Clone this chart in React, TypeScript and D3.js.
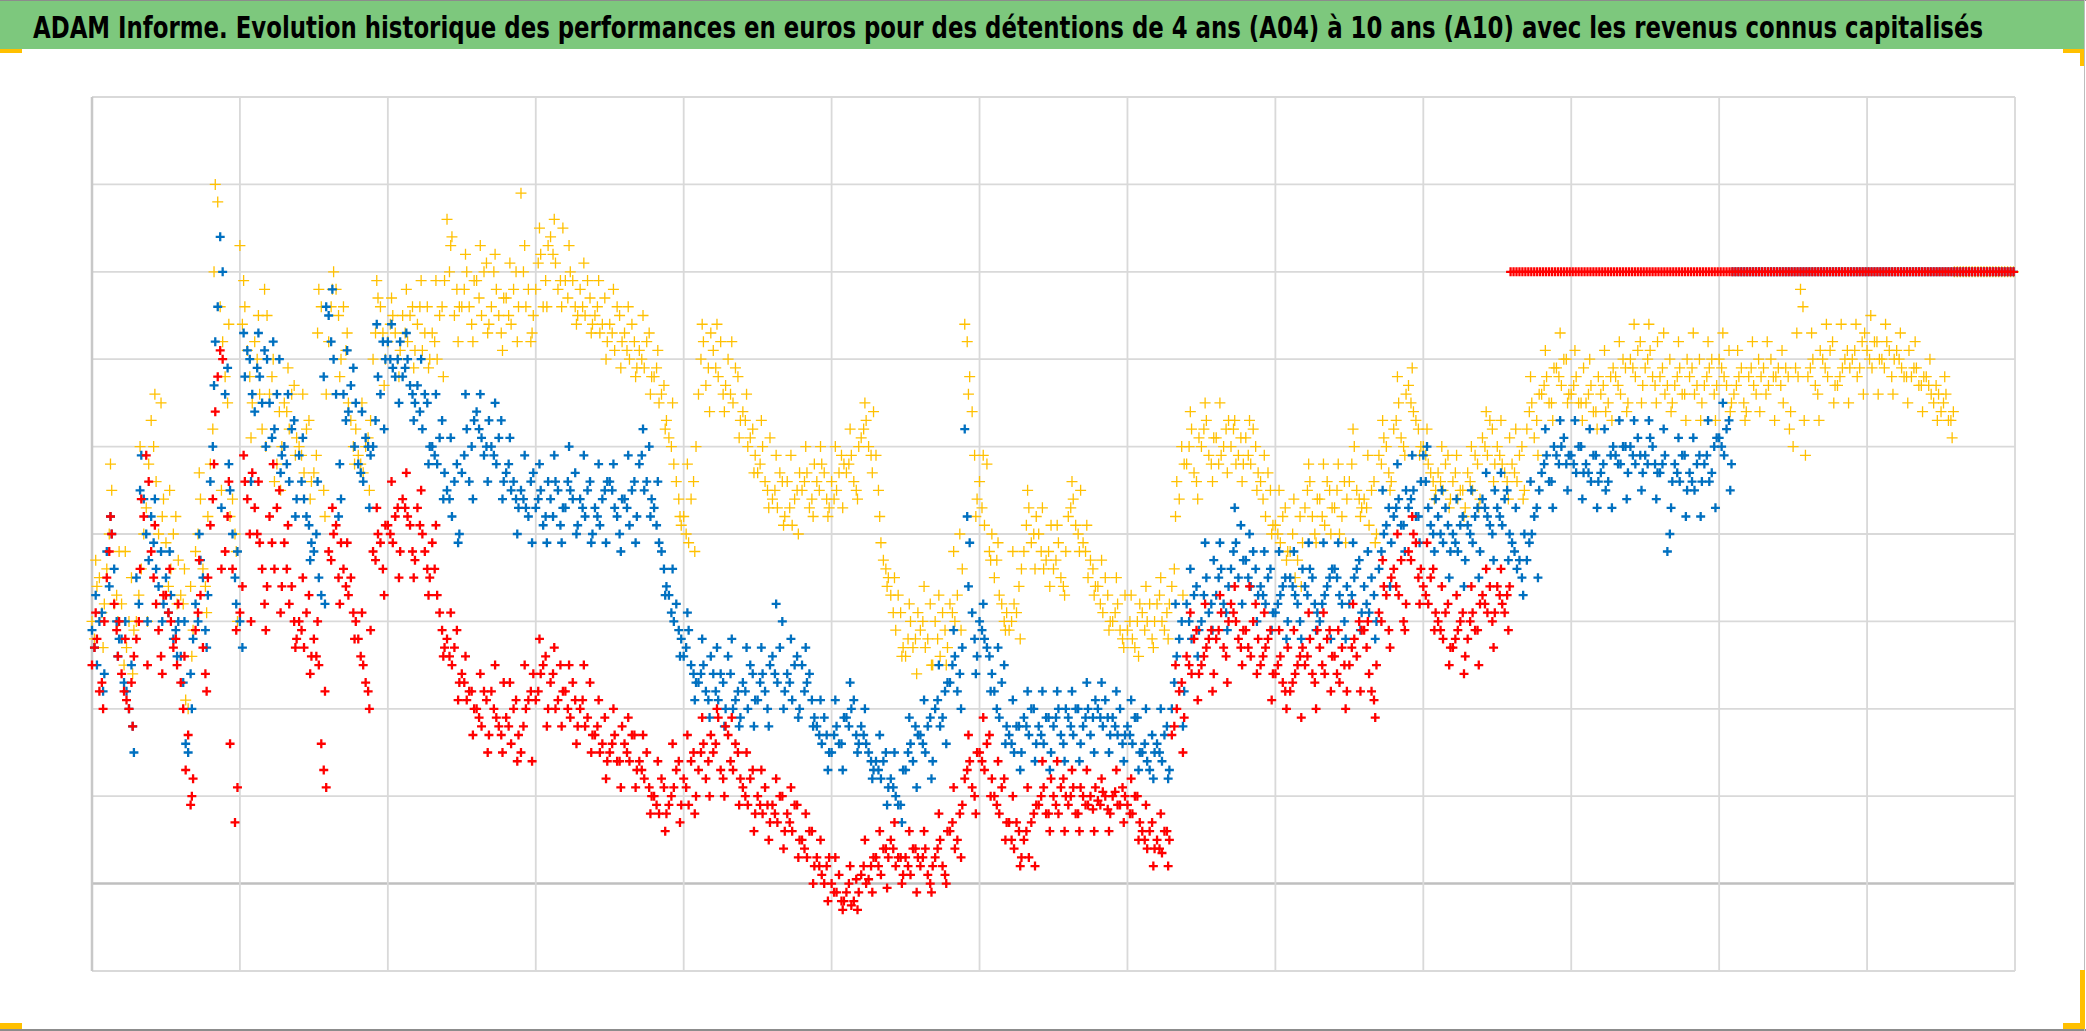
import React, { useEffect, useRef } from "react";
import * as d3 from "d3";

const title =
  "ADAM Informe. Evolution historique des performances en euros pour des détentions de 4 ans (A04) à 10 ans (A10) avec les revenus connus capitalisés";

// x is measured in grid columns (13 columns), y in grid rows (zero line at 0)
const xTicks = d3.range(0, 14);
const yTicks = d3.range(-1, 10);
const step = 0.1;

// readings per step of 0.1 column: a first pass, a second pass between them,
// and a third pass for the upper and lower edges of each cloud
const yellow: number[][] = [
  [3.0, 3.4, 3.1], [3.6, 4.5, 3.3], [3.2, 2.7, 3.5], [3.0, 3.6, 4.3], [5.3, 4.6, 5.5],
  [3.9, 3.6, 4.2], [3.3, 2.1, 3.4], [3.8, 4.4, 3.4], [4.8, 8.0, 6.6], [5.8, 4.2, 4.0],
  [7.3, 6.6, 5.8], [6.2, 5.6, 6.8], [5.6, 4.6, 5.4], [5.5, 5.2, 5.7], [5.0, 4.7, 5.3],
  [4.7, 6.8, 4.5], [6.2, 7.0, 6.5], [6.6, 5.5, 5.0], [4.9, 4.7, 5.1], [6.0, 6.7, 6.3],
  [6.2, 6.5, 6.0], [6.5, 6.2, 6.6], [6.4, 6.1, 6.6], [6.3, 6.0, 6.6], [7.6, 7.4, 6.8],
  [6.6, 7.0, 6.4], [6.9, 6.5, 7.1], [6.6, 6.8, 6.3], [6.7, 6.4, 7.0], [7.9, 6.6, 6.2],
  [6.8, 7.2, 6.9], [7.4, 7.1, 6.9], [6.9, 7.0, 6.6], [6.8, 6.5, 6.7], [6.5, 6.3, 6.7],
  [6.4, 6.1, 6.5], [6.3, 6.0, 6.2], [6.1, 5.9, 6.3], [5.8, 5.5, 5.7], [5.1, 4.8, 4.4],
  [4.2, 3.9, 4.6], [5.6, 6.2, 5.9], [6.1, 5.8, 5.6], [6.0, 5.5, 5.8], [5.4, 5.0, 5.2],
  [4.7, 5.0, 4.5], [4.4, 4.3, 4.6], [4.6, 4.1, 4.5], [4.5, 4.7, 4.4], [4.6, 4.8, 4.4],
  [4.6, 4.5, 4.9], [4.7, 4.9, 4.5], [5.1, 5.3, 4.9], [4.9, 3.9, 3.6], [3.3, 2.9, 3.1],
  [2.6, 3.0, 2.8], [2.9, 2.7, 3.2], [3.0, 2.6, 2.9], [3.2, 3.0, 4.0], [6.4, 5.8, 4.9],
  [4.6, 4.1, 3.8], [3.5, 3.3, 3.0], [2.9, 3.2, 3.4], [3.8, 4.3, 4.0], [4.0, 3.6, 3.8],
  [3.6, 3.9, 3.4], [4.2, 4.4, 4.0], [3.9, 3.5, 3.6], [3.4, 3.1, 3.3], [3.0, 3.2, 2.8],
  [2.9, 2.8, 3.0], [3.1, 3.0, 2.8], [3.2, 3.0, 3.1], [3.4, 4.6, 5.0], [4.8, 5.2, 4.6],
  [5.0, 5.3, 4.8], [5.1, 4.9, 5.2], [5.0, 4.8, 5.1], [5.1, 4.8, 5.0], [4.6, 4.2, 4.5],
  [4.1, 3.9, 4.3], [3.8, 3.5, 4.2], [4.3, 4.6, 4.0], [4.4, 4.1, 4.5], [4.3, 4.0, 4.6],
  [4.6, 5.0, 4.4], [4.4, 4.1, 4.6], [4.9, 5.1, 4.7], [5.2, 5.5, 5.0], [5.7, 5.4, 5.2],
  [5.0, 4.8, 4.6], [4.7, 4.5, 4.9], [4.6, 4.4, 4.5], [4.7, 4.5, 4.8], [5.1, 4.9, 5.2],
  [5.0, 4.8, 4.6], [4.8, 4.6, 5.0], [5.2, 5.5, 5.3], [5.6, 5.8, 5.5], [5.9, 5.7, 6.0],
  [5.6, 5.8, 5.5], [5.5, 5.7, 5.4], [5.6, 5.4, 5.8], [5.8, 5.6, 5.9], [6.0, 5.8, 6.2],
  [5.9, 6.1, 5.7], [5.8, 5.6, 6.0], [5.7, 5.9, 5.6], [5.8, 5.6, 6.0], [5.7, 5.9, 5.6],
  [6.0, 5.8, 6.1], [5.6, 5.8, 5.5], [5.8, 5.7, 6.0], [5.9, 5.7, 5.8], [5.9, 5.5, 5.8],
  [5.0, 5.8, 6.6], [5.8, 6.0, 5.6], [6.0, 5.8, 6.2], [5.7, 5.9, 6.1], [6.0, 5.8, 6.2],
  [6.1, 5.9, 6.2], [6.0, 6.2, 5.8], [6.1, 5.9, 5.8], [5.8, 5.9, 5.7], [5.8, 5.6, 5.7],
  [5.4, 5.6, 5.3],
];

const yellow2: number[][] = [
  [2.8, 3.5, 3.2], [4.0, 3.2, 3.8], [2.5, 3.0, 2.9], [3.3, 4.0, 4.8], [5.0, 4.0, 4.4],
  [3.4, 4.0, 3.7], [3.2, 2.0, 2.9], [4.0, 3.6, 4.2], [5.2, 7.8, 6.2], [5.5, 4.4, 3.0],
  [6.4, 6.1, 5.5], [6.0, 5.2, 6.5], [5.8, 4.8, 5.0], [5.4, 5.6, 5.1], [4.9, 5.2, 4.6],
  [4.9, 6.6, 5.6], [6.6, 6.8, 6.0], [6.1, 5.3, 5.2], [4.8, 5.0, 5.3], [6.3, 6.6, 6.0],
  [6.4, 6.3, 6.1], [6.3, 6.5, 6.1], [6.6, 6.3, 6.0], [6.2, 6.5, 6.9], [7.0, 6.5, 6.6],
  [6.8, 6.6, 6.9], [6.7, 7.0, 6.4], [7.0, 6.5, 6.7], [6.5, 6.8, 6.6], [7.0, 6.8, 6.5],
  [7.1, 6.6, 7.3], [7.2, 6.8, 7.5], [6.7, 6.9, 6.5], [6.6, 6.9, 6.4], [6.6, 6.4, 6.2],
  [6.3, 6.6, 6.2], [6.1, 6.4, 5.9], [6.0, 6.2, 5.8], [5.9, 5.6, 5.3], [5.0, 4.6, 4.1],
  [4.0, 4.4, 5.0], [6.0, 5.7, 6.3], [5.9, 6.2, 5.7], [5.6, 5.9, 5.3], [5.3, 5.1, 4.9],
  [4.8, 4.6, 5.1], [4.5, 4.7, 4.2], [4.3, 4.4, 4.7], [4.6, 4.3, 4.8], [4.5, 4.7, 4.3],
  [4.4, 4.7, 4.8], [4.8, 4.6, 5.0], [5.2, 5.0, 5.4], [4.5, 3.7, 3.5], [3.1, 3.3, 2.7],
  [2.8, 2.7, 3.1], [3.0, 2.8, 2.5], [2.8, 3.1, 2.7], [3.1, 3.3, 3.6], [6.2, 5.4, 4.4],
  [4.3, 4.8, 4.0], [3.7, 3.2, 3.1], [3.0, 3.1, 3.6], [4.1, 3.9, 4.2], [3.8, 3.7, 4.1],
  [3.7, 3.5, 3.8], [4.3, 4.1, 4.5], [3.8, 3.7, 3.4], [3.2, 3.5, 3.0], [3.1, 2.9, 3.3],
  [3.0, 2.7, 3.2], [2.9, 3.2, 3.0], [3.3, 2.9, 3.2], [3.6, 4.4, 4.8], [5.0, 4.7, 5.1],
  [5.2, 4.9, 5.1], [4.8, 5.0, 5.3], [5.2, 4.9, 4.8], [4.9, 5.2, 4.7], [4.4, 4.7, 4.1],
  [4.0, 4.2, 3.8], [4.0, 3.7, 3.9], [4.5, 4.2, 4.4], [4.2, 4.6, 4.3], [4.5, 4.2, 4.4],
  [4.8, 4.5, 4.3], [4.3, 4.5, 4.0], [4.8, 5.0, 4.6], [5.3, 5.1, 5.6], [5.5, 5.3, 5.0],
  [4.9, 4.7, 4.5], [4.6, 4.8, 4.4], [4.7, 4.5, 4.3], [4.6, 4.9, 4.4], [5.0, 5.3, 4.8],
  [4.9, 4.7, 5.1], [4.7, 4.9, 4.5], [5.4, 5.1, 5.6], [5.7, 5.5, 5.9], [5.8, 6.0, 5.6],
  [5.7, 5.5, 5.9], [5.6, 5.4, 5.8], [5.7, 5.5, 5.9], [5.7, 6.0, 5.5], [5.9, 6.1, 5.7],
  [6.0, 5.8, 6.2], [5.9, 5.7, 5.5], [5.8, 5.6, 6.0], [5.9, 5.7, 5.5], [5.8, 6.0, 5.7],
  [5.9, 5.7, 5.5], [5.7, 5.9, 5.4], [5.9, 5.6, 5.8], [5.6, 6.0, 5.8], [5.7, 5.9, 5.4],
  [5.9, 6.8, 4.9], [5.9, 5.7, 6.1], [5.9, 6.1, 5.7], [5.8, 6.0, 5.9], [6.1, 5.9, 6.3],
  [6.0, 6.2, 6.0], [5.9, 6.1, 6.0], [6.0, 5.8, 6.1], [5.9, 5.7, 5.8], [5.7, 5.5, 5.6],
  [5.5, 5.3, 5.4],
];

const yellow3: number[][] = [
  [3.7, 2.7], [4.8, 3.0], [3.8, 2.4], [5.0, 3.0], [5.6, 4.2], [4.5, 3.2], [3.6, 2.6], [4.7, 3.1],
  [7.0, 4.5], [6.4, 3.8], [6.9, 5.1], [6.5, 5.0], [6.0, 4.5], [5.9, 4.9], [5.6, 4.4], [6.3, 4.2],
  [6.8, 5.8], [6.3, 4.8], [5.5, 4.5], [6.9, 5.7], [6.7, 5.8], [6.8, 5.9], [6.9, 5.9], [6.9, 5.8],
  [7.3, 6.2], [7.2, 6.2], [7.3, 6.3], [7.2, 6.1], [7.1, 6.2], [7.3, 6.3], [7.5, 6.6], [7.6, 6.6],
  [7.3, 6.4], [7.1, 6.3], [6.9, 6.0], [6.8, 5.9], [6.6, 5.8], [6.5, 5.6], [6.1, 5.2], [5.5, 4.2],
  [4.8, 3.8], [6.4, 5.4], [6.4, 5.4], [6.2, 5.1], [5.6, 4.7], [5.3, 4.3], [4.9, 4.1], [4.9, 4.0],
  [5.0, 4.2], [5.0, 4.2], [5.0, 4.3], [5.2, 4.4], [5.5, 4.7], [4.2, 3.4], [3.5, 2.6], [3.2, 2.4],
  [3.4, 2.5], [3.3, 2.5], [3.8, 2.9], [5.6, 4.2], [4.9, 3.7], [3.9, 2.9], [3.8, 2.8], [4.5, 3.6],
  [4.3, 3.4], [4.1, 3.3], [4.6, 3.8], [4.1, 3.3], [3.7, 2.9], [3.5, 2.7], [3.3, 2.6], [3.4, 2.7],
  [3.5, 2.8], [4.2, 3.3], [5.4, 4.4], [5.5, 4.6], [5.5, 4.7], [5.3, 4.6], [5.3, 4.5], [4.9, 4.0],
  [4.5, 3.7], [4.4, 3.4], [4.8, 3.9], [4.8, 4.0], [4.8, 3.9], [5.2, 4.2], [4.9, 3.9], [5.3, 4.5],
  [5.8, 4.9], [5.9, 4.9], [5.2, 4.4], [5.0, 4.3], [4.9, 4.2], [5.0, 4.3], [5.4, 4.6], [5.3, 4.4],
  [5.2, 4.4], [5.8, 4.9], [6.1, 5.3], [6.3, 5.5], [6.1, 5.3], [6.0, 5.2], [6.1, 5.3], [6.2, 5.4],
  [6.4, 5.5], [6.4, 5.5], [6.3, 5.4], [6.2, 5.3], [6.3, 5.3], [6.2, 5.3], [6.3, 5.4], [6.1, 5.3],
  [6.2, 5.4], [6.2, 5.3], [6.1, 5.2], [6.3, 5.3], [6.3, 5.3], [6.4, 5.5], [6.4, 5.5], [6.4, 5.6],
  [6.5, 5.6], [6.4, 5.6], [6.3, 5.5], [6.2, 5.4], [6.0, 5.3], [5.8, 5.1],
];

const blue: number[][] = [
  [2.9, 2.5, 3.1], [3.8, 4.0, 3.0], [2.8, 2.2, 2.5], [3.5, 4.9, 4.0], [4.2, 3.6, 3.8],
  [3.5, 3.3, 2.9], [2.6, 1.6, 2.4], [3.2, 3.7, 2.9], [4.6, 6.2, 7.4], [5.6, 4.5, 3.5],
  [3.0, 5.8, 6.0], [5.4, 5.8, 6.1], [5.5, 5.2, 6.0], [5.0, 4.6, 5.3], [4.9, 4.4, 4.1],
  [3.8, 3.5, 5.8], [6.5, 6.0, 4.2], [5.6, 5.4, 5.9], [4.8, 4.6, 5.0], [5.0, 5.8, 6.2],
  [6.2, 5.9, 6.0], [5.8, 6.0, 5.6], [5.7, 5.2, 5.5], [5.0, 4.8, 5.3], [4.5, 4.2, 4.8],
  [4.7, 5.2, 5.0], [5.4, 5.1, 5.0], [5.0, 4.8, 5.3], [4.7, 4.5, 4.4], [4.5, 4.3, 4.6],
  [4.3, 4.5, 4.2], [4.4, 4.6, 4.1], [4.3, 4.5, 4.7], [4.4, 4.2, 4.6], [4.3, 4.1, 4.5],
  [4.6, 4.3, 4.0], [4.4, 4.1, 4.6], [4.8, 4.5, 5.0], [4.3, 3.9, 3.6], [3.3, 3.0, 2.9],
  [2.6, 2.9, 2.4], [2.3, 2.5, 2.1], [2.4, 2.1, 2.3], [2.6, 2.0, 2.2], [2.3, 2.0, 2.4],
  [2.1, 2.4, 2.0], [2.6, 2.3, 3.0], [2.4, 2.1, 2.6], [2.5, 2.3, 2.1], [1.8, 1.6, 1.7],
  [1.5, 1.8, 1.6], [1.9, 2.0, 1.7], [1.8, 1.6, 1.4], [1.4, 1.2, 1.5], [1.2, 1.0, 0.9],
  [1.3, 1.6, 1.8], [1.7, 1.5, 1.9], [2.0, 1.8, 2.2], [2.3, 2.6, 2.4], [5.2, 3.9, 2.8],
  [3.0, 2.8, 2.6], [2.2, 1.9, 2.5], [1.7, 1.5, 1.8], [1.9, 1.7, 2.0], [1.8, 1.6, 1.9],
  [1.8, 2.0, 1.6], [1.9, 1.7, 2.0], [1.8, 2.0, 1.9], [2.0, 1.8, 1.9], [1.9, 1.7, 1.6],
  [1.8, 1.6, 1.9], [1.5, 1.4, 1.7], [1.6, 1.4, 1.8], [2.0, 2.6, 3.0], [3.2, 2.8, 3.4],
  [3.0, 3.5, 3.2], [3.3, 3.6, 3.1], [3.6, 3.9, 4.1], [3.7, 3.4, 3.6], [3.4, 3.2, 3.6],
  [3.1, 3.3, 3.5], [3.5, 3.3, 3.0], [3.4, 3.6, 3.2], [3.0, 3.3, 3.5], [3.6, 3.3, 3.0],
  [3.2, 3.5, 3.7], [3.4, 3.1, 3.3], [3.6, 4.0, 4.3], [4.2, 4.4, 4.1], [4.3, 4.5, 4.2],
  [4.9, 4.3, 4.0], [4.2, 3.9, 4.1], [4.0, 3.8, 4.2], [4.1, 3.9, 4.3], [4.4, 4.2, 4.0],
  [4.3, 4.1, 4.5], [3.9, 3.6, 3.5], [3.7, 4.0, 4.3], [4.7, 4.9, 4.6], [4.9, 5.0, 4.8],
  [4.9, 4.7, 5.0], [4.8, 4.6, 4.9], [4.7, 4.5, 4.9], [4.9, 4.8, 5.0], [5.0, 4.8, 4.9],
  [4.9, 5.1, 4.8], [4.7, 4.9, 4.0], [4.8, 4.6, 4.9], [4.7, 4.5, 4.9], [4.8, 4.6, 5.0],
  [5.1, 4.9, 5.3],
];

const blue2: number[][] = [
  [2.7, 3.0, 2.4], [3.4, 3.6, 2.8], [2.3, 2.0, 1.5], [3.2, 4.4, 3.7], [3.9, 3.4, 3.2],
  [3.1, 2.8, 3.0], [2.3, 1.5, 2.8], [3.0, 3.5, 3.3], [5.0, 6.6, 7.0], [5.9, 4.0, 3.8],
  [2.7, 6.1, 5.6], [5.9, 5.5, 6.0], [5.1, 5.6, 4.9], [4.8, 5.2, 4.4], [4.6, 4.2, 3.9],
  [4.0, 3.3, 6.6], [6.2, 5.6, 4.4], [5.3, 5.7, 5.5], [4.7, 5.1, 4.9], [5.3, 5.6, 6.0],
  [6.0, 5.8, 6.2], [5.9, 5.7, 5.5], [5.4, 5.6, 5.0], [4.9, 5.1, 4.7], [4.4, 4.6, 4.0],
  [4.9, 4.6, 5.3], [5.2, 4.9, 5.3], [4.9, 5.1, 4.6], [4.8, 4.6, 4.3], [4.4, 4.2, 4.7],
  [4.4, 4.1, 4.6], [4.2, 4.5, 4.3], [4.6, 4.4, 4.1], [4.3, 4.5, 4.0], [4.2, 4.4, 4.6],
  [4.5, 4.2, 4.4], [4.3, 4.5, 4.2], [4.9, 4.6, 4.4], [4.1, 3.8, 3.4], [3.1, 3.2, 2.8],
  [2.7, 2.5, 2.3], [2.4, 2.2, 2.6], [2.2, 2.4, 2.0], [2.4, 2.1, 1.9], [2.2, 2.5, 2.1],
  [2.3, 2.2, 2.5], [2.4, 2.7, 2.2], [2.3, 2.5, 2.0], [2.2, 2.4, 1.9], [1.7, 1.9, 1.5],
  [1.7, 1.6, 1.9], [1.8, 2.1, 1.6], [1.7, 1.5, 1.3], [1.3, 1.4, 1.1], [1.1, 0.9, 1.3],
  [1.5, 1.4, 1.7], [1.6, 1.8, 1.4], [2.1, 1.9, 2.3], [2.5, 2.2, 2.7], [4.2, 3.1, 2.6],
  [2.9, 2.7, 2.4], [2.0, 2.3, 1.8], [1.6, 1.8, 1.5], [1.8, 2.0, 1.6], [1.7, 1.9, 1.5],
  [1.9, 1.7, 2.0], [1.8, 2.0, 1.6], [1.9, 1.7, 2.1], [1.9, 2.1, 1.7], [1.8, 2.0, 1.7],
  [1.7, 1.9, 1.5], [1.6, 1.3, 1.5], [1.5, 1.7, 1.3], [2.3, 2.8, 2.2], [3.0, 3.3, 2.9],
  [3.3, 3.1, 3.7], [3.5, 3.2, 3.4], [3.8, 3.5, 3.7], [3.5, 3.8, 3.3], [3.3, 3.5, 3.1],
  [3.2, 3.4, 3.0], [3.4, 3.2, 3.6], [3.3, 3.5, 3.1], [3.2, 3.4, 3.6], [3.5, 3.2, 3.4],
  [3.3, 3.6, 3.1], [3.2, 3.5, 3.0], [3.8, 4.1, 3.9], [4.3, 4.1, 4.5], [4.4, 4.2, 4.6],
  [4.6, 4.1, 4.4], [4.0, 4.3, 3.8], [3.9, 4.1, 3.7], [4.0, 4.2, 3.8], [4.3, 4.1, 4.5],
  [4.2, 4.4, 4.0], [3.8, 3.7, 4.0], [3.9, 4.2, 4.5], [4.8, 4.6, 5.0], [4.8, 5.1, 4.9],
  [4.8, 5.0, 4.7], [4.7, 4.9, 4.6], [4.8, 4.6, 5.0], [4.8, 5.0, 4.7], [4.9, 5.1, 4.7],
  [4.8, 5.0, 4.7], [4.8, 3.8, 4.6], [4.7, 4.9, 4.5], [4.6, 4.8, 4.6], [4.9, 4.7, 5.1],
  [5.0, 5.2, 4.8],
];

const blue3: number[][] = [
  [3.3, 2.2], [4.2, 2.6], [3.0, 1.8], [4.5, 3.0], [4.4, 3.0], [3.8, 2.6], [3.0, 2.0], [4.0, 2.7],
  [5.7, 4.3], [4.8, 3.2], [6.3, 4.6], [6.3, 5.0], [6.2, 4.7], [5.6, 4.2], [5.1, 3.7], [4.6, 3.2],
  [6.8, 4.8], [6.1, 5.0], [5.4, 4.3], [6.4, 5.2], [6.4, 5.5], [6.3, 5.3], [6.0, 4.8], [5.6, 4.4],
  [5.1, 3.9], [5.6, 4.4], [5.6, 4.6], [5.5, 4.4], [5.1, 4.0], [4.9, 3.9], [4.8, 3.9], [4.9, 3.9],
  [5.0, 4.0], [4.9, 3.9], [4.8, 3.9], [4.8, 3.8], [4.9, 3.9], [5.2, 4.2], [4.6, 3.3], [3.6, 2.6],
  [3.1, 2.1], [2.8, 1.9], [2.7, 1.8], [2.8, 1.8], [2.7, 1.8], [2.7, 1.8], [3.2, 2.0], [2.8, 1.9],
  [2.7, 1.8], [2.1, 1.3], [2.1, 1.3], [2.3, 1.5], [2.0, 1.2], [1.7, 0.9], [1.5, 0.7], [1.9, 1.1],
  [2.1, 1.2], [2.5, 1.6], [2.9, 2.0], [3.4, 2.4], [3.2, 2.2], [2.7, 1.6], [2.1, 1.3], [2.2, 1.4],
  [2.2, 1.3], [2.2, 1.4], [2.2, 1.4], [2.3, 1.5], [2.3, 1.5], [2.2, 1.4], [2.1, 1.3], [2.0, 1.2],
  [2.0, 1.2], [3.2, 1.8], [3.6, 2.6], [3.9, 2.9], [3.9, 2.9], [4.3, 3.2], [4.0, 3.0], [3.8, 2.9],
  [3.8, 2.8], [3.8, 2.8], [3.9, 2.9], [3.9, 2.8], [3.9, 2.8], [3.9, 2.9], [3.8, 2.8], [4.5, 3.4],
  [4.8, 3.8], [4.9, 3.9], [5.0, 3.8], [4.5, 3.5], [4.4, 3.4], [4.5, 3.5], [4.7, 3.7], [4.7, 3.7],
  [4.3, 3.3], [4.6, 3.5], [5.2, 4.3], [5.3, 4.5], [5.3, 4.4], [5.2, 4.3], [5.2, 4.3], [5.3, 4.4],
  [5.3, 4.5], [5.3, 4.4], [5.2, 4.3], [5.1, 4.2], [5.1, 4.2], [5.3, 4.3], [5.5, 4.5],
];

const red: number[][] = [
  [2.5, 2.8, 2.3], [3.5, 4.0, 2.9], [2.4, 2.1, 2.3], [2.8, 4.4, 4.9], [3.8, 3.2, 2.6],
  [3.3, 3.0, 2.8], [2.3, 1.3, 0.9], [2.9, 3.3, 2.4], [4.1, 5.4, 6.1], [3.8, 1.6, 0.7],
  [3.1, 4.6, 4.0], [4.3, 3.9, 3.2], [4.2, 3.6, 4.5], [3.9, 3.2, 3.0], [3.0, 2.7, 3.3],
  [2.8, 2.5, 1.3], [3.8, 4.0, 3.5], [3.6, 3.3, 3.1], [2.8, 2.5, 2.2], [3.8, 4.0, 3.6],
  [4.1, 3.9, 4.3], [4.4, 4.2, 3.8], [4.3, 4.0, 3.6], [3.9, 3.3, 2.9], [2.8, 2.5, 2.9],
  [2.4, 2.1, 2.2], [2.0, 1.8, 2.1], [2.2, 1.9, 1.7], [1.9, 1.6, 2.1], [1.5, 2.0, 2.2],
  [2.1, 2.4, 2.6], [2.3, 2.0, 2.5], [2.2, 1.9, 2.1], [2.0, 1.8, 2.3], [1.7, 1.5, 1.9],
  [1.5, 1.7, 1.4], [1.6, 1.4, 1.7], [1.4, 1.2, 1.1], [1.0, 0.8, 1.1], [0.9, 1.1, 1.4],
  [1.2, 0.9, 1.5], [1.3, 1.6, 1.4], [1.5, 1.9, 1.2], [1.7, 1.3, 1.5], [1.1, 0.9, 1.3],
  [1.0, 0.8, 0.9], [0.9, 0.7, 1.0], [0.8, 0.6, 0.9], [0.5, 0.3, 0.6], [0.3, 0.1, 0.2],
  [0.0, -0.1, -0.2], [-0.1, -0.25, 0.05], [0.1, 0.0, 0.2], [0.3, 0.1, 0.4], [0.5, 0.2, 0.3],
  [0.3, 0.1, 0.4], [0.2, 0.4, 0.0], [0.3, 0.5, 0.1], [0.6, 0.4, 0.8], [1.2, 1.4, 1.0],
  [1.5, 1.3, 1.7], [1.0, 0.8, 1.2], [0.7, 0.4, 0.6], [0.5, 0.3, 0.8], [0.9, 1.1, 0.8],
  [1.0, 0.8, 1.2], [0.9, 1.1, 0.8], [1.0, 0.9, 0.85], [0.95, 1.05, 0.85], [1.0, 0.9, 1.1],
  [0.9, 0.8, 1.0], [0.6, 0.4, 0.7], [0.5, 0.35, 0.6], [1.7, 2.0, 2.3], [2.6, 2.4, 2.9],
  [2.5, 2.7, 2.9], [2.8, 3.1, 2.6], [3.2, 3.0, 2.7], [2.9, 2.6, 3.2], [2.5, 2.7, 2.9],
  [2.4, 2.6, 2.2], [2.2, 2.4, 2.6], [2.5, 2.8, 2.3], [2.7, 2.4, 2.9], [2.6, 2.3, 2.5],
  [2.5, 2.8, 3.0], [2.9, 2.4, 2.1], [3.1, 3.4, 2.9], [3.6, 3.3, 3.0], [3.8, 4.0, 3.5],
  [3.4, 3.2, 3.6], [3.0, 2.8, 3.2], [2.7, 2.9, 3.1], [2.8, 3.1, 2.9], [3.3, 3.1, 3.0],
  [3.4, 3.2, 3.3],
];

const red2: number[][] = [
  [2.7, 2.2, 3.0], [3.8, 3.2, 3.0], [2.2, 2.0, 2.6], [3.0, 4.2, 4.6], [3.5, 2.9, 3.3],
  [3.1, 2.7, 3.2], [2.0, 1.7, 1.2], [3.1, 2.7, 3.5], [4.4, 5.8, 6.0], [4.2, 3.6, 1.1],
  [3.4, 4.4, 4.7], [4.0, 3.6, 3.4], [3.9, 4.3, 3.4], [3.6, 3.4, 2.8], [2.9, 3.1, 2.6],
  [2.6, 1.6, 1.1], [3.7, 4.1, 3.9], [3.4, 3.5, 3.0], [2.6, 2.3, 2.9], [3.7, 3.9, 4.1],
  [4.0, 4.2, 3.8], [4.3, 4.1, 3.7], [4.1, 3.8, 3.5], [3.6, 3.1, 2.7], [2.6, 2.7, 2.3],
  [2.3, 2.2, 2.0], [1.9, 2.2, 1.7], [2.0, 1.8, 2.3], [1.8, 2.0, 1.7], [1.8, 2.1, 2.4],
  [2.2, 2.5, 2.0], [2.4, 2.1, 2.2], [2.0, 2.3, 1.8], [2.1, 1.9, 1.7], [1.8, 1.6, 1.4],
  [1.6, 1.4, 1.8], [1.5, 1.7, 1.3], [1.3, 1.5, 1.0], [0.9, 1.2, 0.8], [1.0, 1.3, 0.9],
  [1.1, 1.4, 1.0], [1.5, 1.2, 1.7], [1.6, 1.3, 1.8], [1.4, 1.6, 1.2], [1.0, 1.2, 0.8],
  [0.9, 1.1, 0.7], [0.8, 1.0, 0.6], [0.7, 0.9, 0.5], [0.4, 0.6, 0.2], [0.2, 0.0, 0.3],
  [-0.1, 0.1, -0.2], [0.0, -0.2, -0.1], [0.2, 0.05, 0.3], [0.2, 0.4, 0.3], [0.4, 0.3, 0.1],
  [0.2, 0.4, 0.3], [0.3, 0.1, 0.2], [0.4, 0.2, 0.6], [0.7, 0.5, 0.9], [1.3, 1.1, 1.5],
  [1.4, 1.6, 1.2], [0.9, 1.1, 0.7], [0.5, 0.7, 0.3], [0.6, 0.7, 0.9], [1.0, 0.8, 1.2],
  [0.9, 1.1, 1.0], [1.0, 0.8, 1.1], [0.9, 1.0, 1.1], [0.9, 1.0, 0.8], [1.05, 0.9, 1.0],
  [0.8, 1.0, 0.7], [0.5, 0.6, 0.4], [0.4, 0.6, 0.5], [1.8, 2.2, 1.9], [2.5, 2.8, 2.4],
  [2.6, 2.8, 2.4], [2.9, 2.7, 3.0], [3.1, 2.8, 2.9], [2.7, 3.0, 2.8], [2.6, 2.8, 2.4],
  [2.5, 2.3, 2.7], [2.3, 2.5, 2.7], [2.6, 2.4, 2.9], [2.5, 2.8, 2.6], [2.4, 2.7, 2.2],
  [2.7, 2.6, 2.9], [2.7, 2.2, 2.5], [3.0, 3.3, 3.5], [3.4, 3.7, 3.2], [3.7, 3.9, 3.6],
  [3.3, 3.5, 3.1], [2.9, 3.1, 2.7], [2.8, 3.0, 2.6], [3.0, 2.9, 3.2], [3.2, 3.4, 3.1],
  [3.3, 3.1, 3.4],
];

const red3: number[][] = [
  [3.1, 2.0], [4.2, 2.6], [2.8, 1.8], [3.6, 2.5], [4.1, 2.4], [3.6, 2.5], [2.6, 1.0], [3.7, 2.2],
  [4.8, 3.6], [4.6, 2.9], [4.9, 3.0], [4.6, 2.9], [4.8, 3.1], [4.1, 2.7], [3.5, 2.4], [3.0, 2.2],
  [4.3, 3.2], [3.9, 2.8], [3.1, 2.0], [4.3, 3.3], [4.6, 3.5], [4.7, 3.5], [4.5, 3.3], [4.1, 2.6],
  [3.1, 2.1], [2.6, 1.7], [2.4, 1.5], [2.5, 1.5], [2.3, 1.4], [2.5, 1.4], [2.8, 1.8], [2.7, 1.8],
  [2.5, 1.6], [2.5, 1.5], [2.1, 1.2], [2.0, 1.1], [1.9, 1.1], [1.7, 0.8], [1.4, 0.6], [1.6, 0.7],
  [1.7, 0.8], [1.9, 1.0], [2.0, 1.0], [1.9, 0.9], [1.5, 0.6], [1.3, 0.5], [1.2, 0.4], [1.1, 0.3],
  [0.8, 0.0], [0.5, -0.2], [0.3, -0.3], [0.2, -0.3], [0.5, -0.1], [0.6, -0.05], [0.7, 0.0], [0.6, -0.1],
  [0.6, -0.1], [0.8, 0.0], [1.1, 0.3], [1.7, 0.8], [1.9, 1.0], [1.4, 0.5], [1.0, 0.2], [1.1, 0.2],
  [1.4, 0.6], [1.4, 0.6], [1.3, 0.6], [1.3, 0.6], [1.2, 0.6], [1.3, 0.7], [1.2, 0.5], [0.9, 0.2],
  [0.8, 0.2], [2.5, 1.5], [3.1, 2.1], [3.2, 2.2], [3.3, 2.3], [3.4, 2.5], [3.4, 2.4], [3.1, 2.1],
  [2.9, 2.0], [2.9, 1.9], [3.1, 2.0], [3.1, 2.2], [2.9, 2.0], [3.2, 2.2], [3.0, 1.9], [3.7, 2.7],
  [4.0, 2.9], [4.2, 3.2], [3.9, 2.9], [3.4, 2.5], [3.3, 2.4], [3.4, 2.5], [3.6, 2.7], [3.6, 2.9],
];

// once a series has no more data it is plotted at a constant level
const flatLevel = 7;
const flatStep = 0.02;
// where each pass sits inside its step
const passOffsets = [0, 0.5, 0.5];

interface Series {
  name: string;
  passes: number[][][];
  color: string;
  size: number;
  stroke: number;
}

const series: Series[] = [
  { name: "yellow", passes: [yellow, yellow2, yellow3], color: "#FFC000", size: 11, stroke: 1.3 },
  { name: "blue", passes: [blue, blue2, blue3], color: "#0070C0", size: 9, stroke: 2.3 },
  { name: "red", passes: [red, red2, red3], color: "#FF0000", size: 9, stroke: 2.3 },
];

const W = 2086;
const H = 1031;

const App: React.FC = () => {
  const svgRef = useRef<SVGSVGElement | null>(null);

  useEffect(() => {
    document.body.style.margin = "0";
    const svg = d3.select(svgRef.current);
    svg.selectAll("*").remove();

    const x = d3.scaleLinear().domain([0, 13]).range([92, 2015]);
    const y = d3.scaleLinear().domain([-1, 9]).range([971, 97]);

    svg.append("rect").attr("width", W).attr("height", H).attr("fill", "#fff");

    // title bar
    svg.append("rect").attr("x", 0).attr("y", 0).attr("width", 2084).attr("height", 49).attr("fill", "#7DC87D");
    svg
      .append("text")
      .attr("transform", "translate(33,38) scale(1,1.2)")
      .attr("textLength", 1950)
      .attr("lengthAdjust", "spacingAndGlyphs")
      .style("font-family", "'DejaVu Sans Condensed', 'Liberation Sans', sans-serif")
      .style("font-weight", "bold")
      .style("font-size", "25px")
      .attr("fill", "#000")
      .text(title);

    // frame
    svg.append("line").attr("x1", 0).attr("x2", W).attr("y1", 0.5).attr("y2", 0.5).attr("stroke", "#8c8c8c");
    svg.append("line").attr("x1", 0).attr("x2", W).attr("y1", 1030).attr("y2", 1030).attr("stroke", "#8c8c8c").attr("stroke-width", 2);
    svg.append("line").attr("x1", 2084.5).attr("x2", 2084.5).attr("y1", 0).attr("y2", H).attr("stroke", "#bdbdbd");

    // selection handles
    const handle = "#FFC000";
    svg.append("rect").attr("x", 0).attr("y", 49).attr("width", 22).attr("height", 4).attr("fill", handle);
    svg.append("rect").attr("x", 0).attr("y", 1023).attr("width", 22).attr("height", 6).attr("fill", handle);
    svg.append("path").attr("d", "M2063,49H2084V66H2080V53H2063Z").attr("fill", handle);
    svg.append("path").attr("d", "M2080,970H2085V1029H2063V1023H2080Z").attr("fill", handle);

    // grid
    const grid = svg.append("g");
    grid
      .selectAll("line.h")
      .data(yTicks)
      .enter()
      .append("line")
      .attr("x1", x(0))
      .attr("x2", x(13))
      .attr("y1", (d) => y(d))
      .attr("y2", (d) => y(d))
      .attr("stroke", (d) => (d === 0 ? "#bfbfbf" : "#d9d9d9"))
      .attr("stroke-width", (d) => (d === 0 ? 2.5 : 1.8));
    grid
      .selectAll("line.v")
      .data(xTicks)
      .enter()
      .append("line")
      .attr("x1", (d) => x(d))
      .attr("x2", (d) => x(d))
      .attr("y1", y(9))
      .attr("y2", y(-1))
      .attr("stroke", (d) => (d === 0 ? "#c8c8c8" : "#d9d9d9"))
      .attr("stroke-width", (d) => (d === 0 ? 2.5 : 1.8));

    const plus = (s: number) => `M${-s / 2},0H${s / 2}M0,${-s / 2}V${s / 2}`;

    series.forEach((ser) => {
      const pts: [number, number][] = [];
      ser.passes.forEach((pass, j) => {
        pass.forEach((row, i) => {
          row.forEach((v, k) =>
            pts.push([i * step + ((k + passOffsets[j]) * step) / row.length, v])
          );
        });
      });
      const end = (ser.passes[0].length - 1) * step + step * 0.9;
      d3.range(end, 13 + 1e-6, flatStep).forEach((t) => pts.push([t, flatLevel]));

      svg
        .append("g")
        .selectAll("path")
        .data(pts)
        .enter()
        .append("path")
        .attr("transform", (d) => `translate(${x(d[0])},${y(d[1])})`)
        .attr("d", plus(ser.size))
        .attr("fill", "none")
        .attr("stroke", ser.color)
        .attr("stroke-width", ser.stroke);
    });
  }, []);

  return <svg ref={svgRef} width={W} height={H} style={{ display: "block" }} />;
};

export default App;
